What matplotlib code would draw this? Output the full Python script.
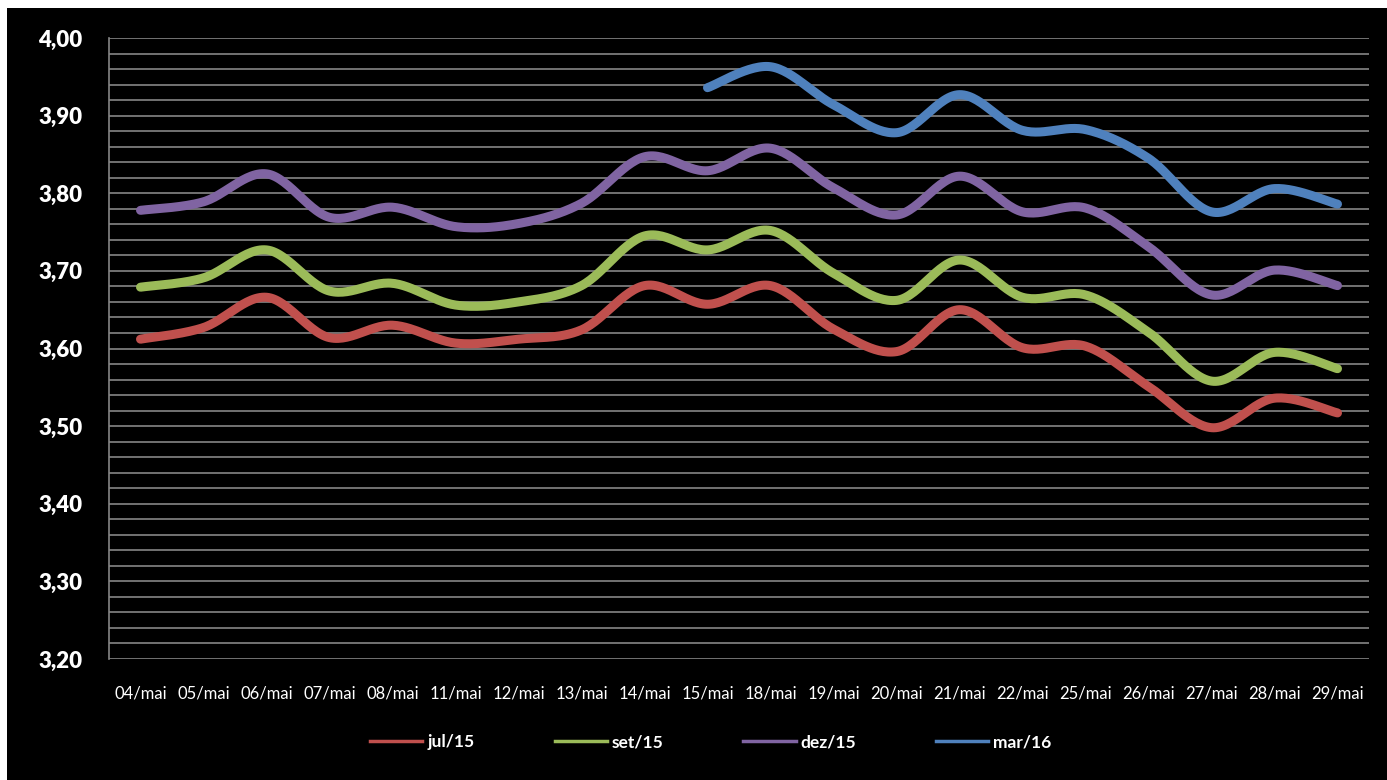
import matplotlib.pyplot as plt
import matplotlib.patches as patches
from matplotlib.ticker import FuncFormatter, MultipleLocator
import numpy as np

plt.rcParams['font.family'] = ['Lato', 'DejaVu Sans']

dias = ['04/mai', '05/mai', '06/mai', '07/mai', '08/mai', '11/mai', '12/mai',
        '13/mai', '14/mai', '15/mai', '18/mai', '19/mai', '20/mai', '21/mai',
        '22/mai', '25/mai', '26/mai', '27/mai', '28/mai', '29/mai']

jul15 = [3.612, 3.627, 3.666, 3.614, 3.630, 3.607, 3.612, 3.624, 3.681, 3.657,
         3.681, 3.625, 3.596, 3.650, 3.601, 3.603, 3.551, 3.498, 3.536, 3.517]
set15 = [3.679, 3.691, 3.727, 3.674, 3.684, 3.656, 3.660, 3.681, 3.745, 3.727,
         3.752, 3.697, 3.662, 3.714, 3.666, 3.669, 3.621, 3.558, 3.595, 3.574]
dez15 = [3.778, 3.789, 3.825, 3.769, 3.782, 3.757, 3.761, 3.787, 3.847, 3.829,
         3.858, 3.807, 3.772, 3.822, 3.776, 3.781, 3.731, 3.669, 3.701, 3.681]
mar16 = [None] * 9 + [3.936, 3.963, 3.914, 3.878, 3.927, 3.881, 3.882, 3.845,
                      3.776, 3.806, 3.786]

series = [('jul/15', jul15, '#C0504D'),
          ('set/15', set15, '#9BBB59'),
          ('dez/15', dez15, '#8064A2'),
          ('mar/16', mar16, '#4F81BD')]


def suaviza(x, y, n=30):
    # curva de Bezier tipo Catmull-Rom entre os pontos (linha suavizada)
    x = np.asarray(x, float)
    y = np.asarray(y, float)
    xs, ys = [], []
    for i in range(len(x) - 1):
        i0 = max(i - 1, 0)
        i3 = min(i + 2, len(x) - 1)
        p0 = np.array([x[i0], y[i0]])
        p1 = np.array([x[i], y[i]])
        p2 = np.array([x[i + 1], y[i + 1]])
        p3 = np.array([x[i3], y[i3]])
        c1 = p1 + (p2 - p0) / 6
        c2 = p2 - (p3 - p1) / 6
        t = np.linspace(0, 1, n)[:, None]
        b = ((1 - t) ** 3 * p1 + 3 * (1 - t) ** 2 * t * c1
             + 3 * (1 - t) * t ** 2 * c2 + t ** 3 * p2)
        xs.extend(b[:, 0])
        ys.extend(b[:, 1])
    return xs, ys


fig = plt.figure(figsize=(13.87, 7.80), dpi=100)
fig.patch.set_facecolor('white')
fig.patches.append(patches.Rectangle((7 / 1387, 0), 1, 772 / 780,
                                     transform=fig.transFigure,
                                     facecolor='black', zorder=-10))

ax = fig.add_axes([109 / 1387, 121 / 780, 1260 / 1387, 621 / 780])
ax.set_facecolor('black')

for nome, vals, cor in series:
    idx = [i for i, v in enumerate(vals) if v is not None]
    xs, ys = suaviza(idx, [vals[i] for i in idx])
    ax.plot(xs, ys, color=cor, lw=6.5, solid_capstyle='round', label=nome,
            zorder=3)

ax.set_xlim(-0.5, len(dias) - 0.5)
ax.set_ylim(3.2, 4.0)
ax.yaxis.set_major_locator(MultipleLocator(0.1))
ax.yaxis.set_minor_locator(MultipleLocator(0.02))
ax.yaxis.set_major_formatter(FuncFormatter(lambda v, p: f'{v:.2f}'.replace('.', ',')))
ax.grid(which='both', axis='y', color='#868686', lw=1.2)
ax.set_axisbelow(True)

ax.set_xticks(range(len(dias)))
ax.set_xticklabels(dias)
ax.tick_params(axis='x', length=0, pad=19, labelsize=12, colors='white')
ax.tick_params(axis='y', which='both', length=0, pad=19, labelsize=16,
               colors='white')
for lb in ax.get_yticklabels():
    lb.set_fontweight('heavy')

for s in ['top', 'right', 'bottom']:
    ax.spines[s].set_visible(False)
ax.spines['left'].set_color('#868686')
ax.spines['left'].set_linewidth(1.2)

handles = [plt.Line2D([], [], color=c, lw=2.5) for _, _, c in series]
leg = fig.legend(handles, [n for n, _, _ in series], loc='center', ncol=4,
                 bbox_to_anchor=(711 / 1387, 1 - 742 / 780), frameon=False,
                 handlelength=3.0, columnspacing=4.6, handletextpad=0.3,
                 prop={'weight': 'bold', 'size': 12.5})
for t in leg.get_texts():
    t.set_color('white')

fig.savefig('out.png', dpi=100, facecolor=fig.get_facecolor())
